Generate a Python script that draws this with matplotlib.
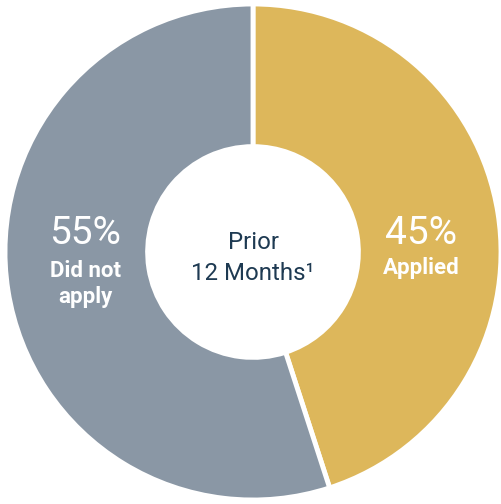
import matplotlib
matplotlib.use("Agg")
import matplotlib.pyplot as plt

# Share of respondents who applied in the prior 12 months
labels = ["Applied", "Did not\napply"]
shares = [45, 55]
colors = ["#DDB75B", "#8A97A5"]
center_text = "Prior\n12 Months\u00b9"

plt.rcParams["font.family"] = ["Roboto", "DejaVu Sans"]

W, H = 501, 504
fig = plt.figure(figsize=(W / 100, H / 100), dpi=100)
ax = fig.add_axes([0, 0, 1, 1])

R_PX = 248
cx, cy = 253, 252
ax.pie(shares, colors=colors, startangle=90, counterclock=False, radius=1.0,
       wedgeprops=dict(width=0.575, edgecolor="white", linewidth=3.5))
ax.set_xlim(-cx / R_PX, (W - cx) / R_PX)
ax.set_ylim(-(H - cy) / R_PX, cy / R_PX)
ax.set_aspect("equal")
ax.axis("off")

def px(x, y):
    return (x - cx) / R_PX, (cy - y) / R_PX

# Slice labels
x, y = px(421, 233)
ax.text(x, y, f"{shares[0]}%", color="white", fontsize=28, ha="center", va="center")
x, y = px(421, 268)
ax.text(x, y, labels[0], color="white", fontsize=16, fontweight="bold", ha="center", va="center")

x, y = px(85, 233)
ax.text(x, y, f"{shares[1]}%", color="white", fontsize=28, ha="center", va="center")
x, y = px(85, 284)
ax.text(x, y, labels[1], color="white", fontsize=16, fontweight="bold", ha="center", va="center",
        linespacing=1.2)

x, y = px(253, 258)
ax.text(x, y, center_text, color="#1E3A52", fontsize=17.3, ha="center", va="center",
        linespacing=1.4)

fig.savefig("out.png", dpi=100, facecolor="white")
